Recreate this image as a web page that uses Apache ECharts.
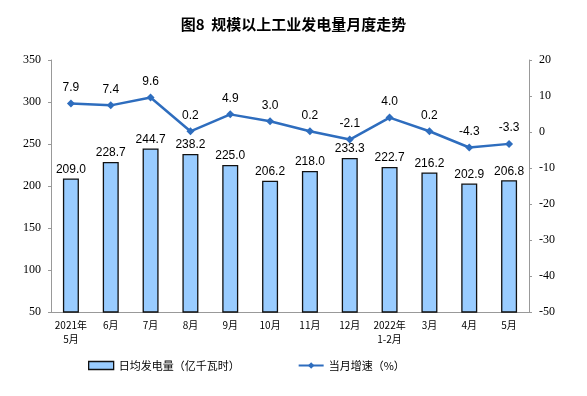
<!DOCTYPE html>
<html><head><meta charset="utf-8">
<script src="https://cdn.jsdelivr.net/npm/echarts@6/dist/echarts.min.js"></script>
<style>html,body{margin:0;padding:0;background:#fff}#c{width:587px;height:396px}</style>
</head><body><div id="c"></div>
<script>
const categories = ['2021年\n5月','6月','7月','8月','9月','10月','11月','12月','2022年\n1-2月','3月','4月','5月'];
const dailyOutput = [209.0,228.7,244.7,238.2,225.0,206.2,218.0,233.3,222.7,216.2,202.9,206.8];
const growth = [7.9,7.4,9.6,0.2,4.9,3.0,0.2,-2.1,4.0,0.2,-4.3,-3.3];
const leftTicks = [50,350,50];
const rightTicks = [-50,20,10];
const titleText = '图8  规模以上工业发电量月度走势';
const barName = '日均发电量（亿千瓦时）';
const lineName = '当月增速（%）';

const chart = echarts.init(document.getElementById('c'));
chart.setOption({
  animation:false,
  backgroundColor:'#fff',
  title:{text:titleText,left:'center',top:12,textStyle:{fontFamily:'"Noto Sans CJK SC"',fontSize:15,fontWeight:'bold',color:'#000'}},
  grid:{left:51,right:58,top:60,bottom:84},
  legend:{left:83,top:355,itemGap:58,itemWidth:25,itemHeight:8,textStyle:{fontFamily:'"Noto Sans CJK SC"',fontSize:11,color:'#000'},
    data:[{name:barName,icon:'rect',itemStyle:{borderColor:'#111',borderWidth:1.3}},{name:lineName}]},
  xAxis:{type:'category',data:categories,
    axisLine:{onZero:false,lineStyle:{color:'#999'}},
    axisTick:{inside:true,length:3,lineStyle:{color:'#999'}},
    axisLabel:{fontFamily:'"Noto Sans CJK SC"',fontSize:10,color:'#000',lineHeight:14,margin:6,interval:0}},
  yAxis:[
    {type:'value',min:leftTicks[0],max:leftTicks[1],interval:leftTicks[2],
      axisLine:{show:true,lineStyle:{color:'#999'}},axisTick:{show:true,length:3,lineStyle:{color:'#999'}},
      splitLine:{show:false},axisLabel:{fontFamily:'"Liberation Serif"',fontSize:12,color:'#000',margin:10}},
    {type:'value',min:rightTicks[0],max:rightTicks[1],interval:rightTicks[2],
      axisLine:{show:true,lineStyle:{color:'#999'}},axisTick:{show:true,length:3,lineStyle:{color:'#999'}},
      splitLine:{show:false},axisLabel:{fontFamily:'"Liberation Serif"',fontSize:12,color:'#000',margin:10}}
  ],
  series:[
    {name:barName,type:'bar',data:dailyOutput,barWidth:16,yAxisIndex:0,
      itemStyle:{color:'#99CCFF',borderColor:'#111',borderWidth:1.3},
      label:{show:true,position:'top',distance:3,formatter:p=>p.value.toFixed(1),fontFamily:'"Liberation Sans"',fontSize:12,color:'#000'}},
    {name:lineName,type:'line',data:growth,yAxisIndex:1,symbol:'diamond',symbolSize:8,
      lineStyle:{color:'#2E6DBE',width:2.5},itemStyle:{color:'#2E6DBE'},
      label:{show:true,position:'top',distance:6,formatter:p=>p.value.toFixed(1),fontFamily:'"Liberation Sans"',fontSize:12,color:'#000'}}
  ]
});
</script></body></html>
